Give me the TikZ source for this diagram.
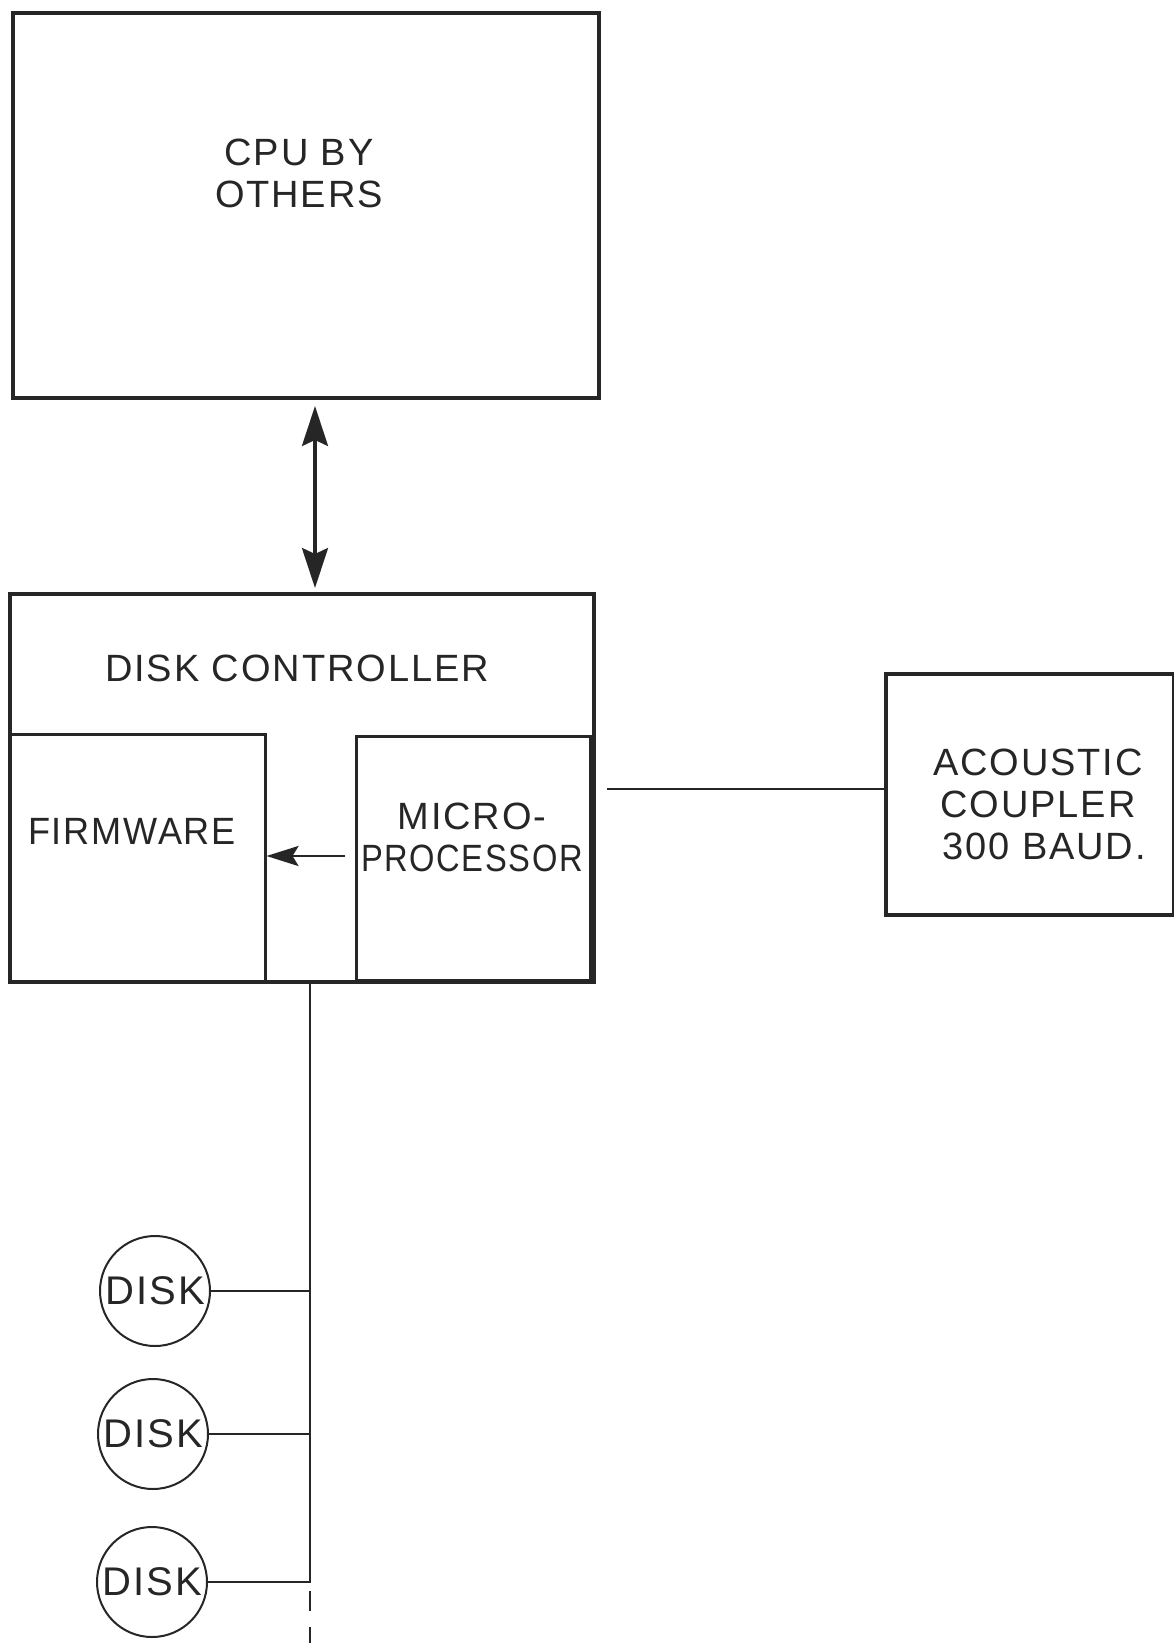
\documentclass[tikz,border=0pt]{standalone}
\usepackage{fontspec}
\setmainfont{Liberation Sans}[LetterSpace=5]
\usetikzlibrary{arrows.meta,calc}
\begin{document}
\begin{tikzpicture}[x=0.5pt,y=-0.5pt,
  ink/.style={draw=black!85},
  bigbox/.style={ink,line width=2pt,inner sep=0pt},
  subbox/.style={ink,line width=1.5pt,inner sep=0pt},
  lbl/.style={font=\fontsize{19}{21}\selectfont,text=black!85,align=center},
  disk/.style={ink,circle,line width=1pt,minimum size=55pt,inner sep=0pt,font=\fontsize{20}{22}\selectfont,text=black!85},
  wire/.style={ink,line width=1.4pt},
  bigtips/.style={arrows={Stealth[length=20pt,width=13pt,inset=3pt]-Stealth[length=20pt,width=13pt,inset=3pt]}},
  smalltip/.style={arrows={-Stealth[length=16pt,width=10pt,inset=3pt]}}
]
\useasboundingbox[fill=white] (0,0) rectangle (1173,1643);
% boxes
\node[bigbox,minimum width=293pt,minimum height=192.5pt] (cpu) at (305.5,205.5) {};
\node[lbl] (cputxt) at (299,173) {CPU BY\\OTHERS};
\node[bigbox,minimum width=292pt,minimum height=194pt] (ctrl) at (302,788) {};
\node[lbl] (ctrltxt) at (297,668) {DISK CONTROLLER};
\node[subbox,minimum width=127.5pt,minimum height=124pt] (fw) at (137.5,858) {};
\node[lbl] (fwtxt) at (132,831) {\scalebox{0.95}[1]{FIRMWARE}};
\node[subbox,minimum width=117pt,minimum height=122pt] (mp) at (473,858) {};
\node[lbl] (mptxt) at (472,837) {MICRO-\\\scalebox{0.86}[1]{PROCESSOR}};
\node[bigbox,minimum width=144pt,minimum height=120.5pt] (ac) at (1030,794.5) {};
\node[lbl] (actxt) at (1038,804) {ACOUSTIC\\COUPLER\\\ 300 BAUD.};
% disks
\node[disk] (d1) at (155,1291) {DISK};
\node[disk] (d2) at (153,1434) {DISK};
\node[disk] (d3) at (152,1582) {DISK};
% coordinates
\coordinate (ax) at (315,0);
\coordinate (bx) at (310,0);
\coordinate (lx) at (607,789);
\coordinate (bend) at (310,1583);
\coordinate (bfree) at (310,1643);
% connectors
\draw[wire,line width=1.6pt,bigtips,shorten <=3pt,shorten >=2pt] (cpu.south -| ax) -- (ctrl.north -| ax);
\draw[wire,smalltip,shorten <=5pt] (mp.west |- 0,856) -- (fw.east |- 0,856);
\draw[wire] (lx) -- (ac.west |- lx);
\draw[wire] (ctrl.south -| bx) -- (bend);
\draw[wire,dash pattern=on 10pt off 8pt] (bend) ++(0,8) -- (bfree);
\draw[wire] (d1.east) -- (d1.east -| bx);
\draw[wire] (d2.east) -- (d2.east -| bx);
\draw[wire] (d3.east) -- (d3.east -| bx);
\end{tikzpicture}
\end{document}
